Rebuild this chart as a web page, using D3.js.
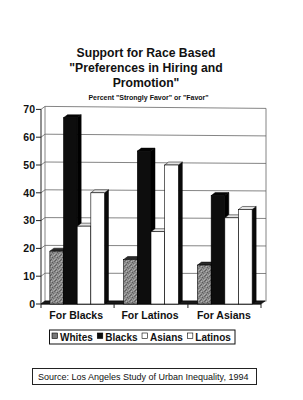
<!DOCTYPE html>
<html>
<head>
<meta charset="utf-8">
<script src="https://cdn.jsdelivr.net/npm/d3@7"></script>
<style>
  html, body { margin: 0; padding: 0; background: #fff; }
  svg { display: block; }
  text { font-family: "Liberation Sans", Arial, Helvetica, sans-serif; fill: #111; }
</style>
</head>
<body>
<svg id="chart" width="303" height="400"></svg>
<script>
// ---- data ----
const categories = ["For Blacks", "For Latinos", "For Asians"];
const seriesNames = ["Whites", "Blacks", "Asians", "Latinos"];
const whites  = [19, 16, 14];
const blacks  = [67, 55, 39];
const asians  = [28, 26, 31];
const latinos = [40, 50, 34];
const yTicks  = [0, 10, 20, 30, 40, 50, 60, 70];
const titleLines = ["Support for Race Based", "\"Preferences in Hiring and", "Promotion\""];
const subtitle = "Percent \"Strongly Favor\" or \"Favor\"";
const sourceText = "Source: Los Angeles Study of Urban Inequality, 1994";

const seriesValues = [whites, blacks, asians, latinos];

(function () {
// ---- layout ----
const svg = d3.select("#chart");
const pL = 41, pR = 261, pB = 304, pT = 109.4;
const DX = 4, DY = 3;      // wall depth
const BDX = 4, BDY = 3;    // bar depth
const tilt = 2;            // slight skew of the scanned back wall

const x0 = d3.scaleBand().domain(categories).range([pL, pR]).paddingInner(0.26).paddingOuter(0.12);
const x1 = d3.scaleBand().domain(seriesNames).range([0, x0.bandwidth()]).padding(0);
const y = d3.scaleLinear().domain([0, 70]).range([pB, pT]);

// stipple pattern for Whites (fixed dot layout)
const defs = svg.append("defs");
const pat = defs.append("pattern").attr("id", "stipple").attr("patternUnits", "userSpaceOnUse")
  .attr("width", 5).attr("height", 5);
pat.append("rect").attr("width", 5).attr("height", 5).attr("fill", "#8a8a8a");
const dots = [[0,0,"#5c5c5c"],[3,0,"#a8a8a8"],[1,1,"#b4b4b4"],[4,1,"#666"],[2,2,"#5a5a5a"],
              [0,3,"#a0a0a0"],[3,3,"#707070"],[1,4,"#626262"],[4,4,"#b0b0b0"],[2,4,"#9c9c9c"]];
dots.forEach(([px, py, c]) => pat.append("rect").attr("x", px).attr("y", py).attr("width", 1).attr("height", 1).attr("fill", c));

// ---- title ----
const tBaselines = [57, 72, 86.5];
titleLines.forEach((t, i) => {
  svg.append("text").attr("x", 146).attr("y", tBaselines[i]).attr("text-anchor", "middle")
    .attr("font-size", 12.2).attr("font-weight", "bold").text(t);
});
svg.append("text").attr("x", 148.5).attr("y", 99.5).attr("text-anchor", "middle")
  .attr("font-size", 7).attr("font-weight", "bold").text(subtitle);

// ---- walls & gridlines ----
const g = svg.append("g");
const wallR = pR + DX + 1;
g.append("path")
  .attr("d", `M${pL + DX},${y(0) - DY} L${pL + DX},${y(70) - DY} M${wallR},${y(70) - DY + tilt} L${wallR},${y(0) - DY + 0.5}`)
  .attr("stroke", "#666").attr("stroke-width", 0.8).attr("fill", "none");
g.selectAll(".grid").data(yTicks).join("path")
  .attr("class", "grid")
  .attr("d", v => `M${pL},${y(v)} L${pL + DX},${y(v) - DY} L${wallR},${y(v) - DY + tilt * v / 70}`)
  .attr("stroke", "#666").attr("stroke-width", 0.8).attr("fill", "none");

// floor (dark, visible in gaps)
g.append("path")
  .attr("d", `M${pL},${y(0)} L${pR},${y(0)} L${pR + DX},${y(0) - DY} L${pL + DX},${y(0) - DY} Z`)
  .attr("fill", "#1a1a1a").attr("stroke", "#000").attr("stroke-width", 0.6);

// y axis
g.append("line").attr("x1", pL).attr("x2", pL).attr("y1", y(0)).attr("y2", y(70))
  .attr("stroke", "#222").attr("stroke-width", 1);
g.selectAll(".ytick").data(yTicks).join("line").attr("class", "ytick")
  .attr("x1", pL - 5).attr("x2", pL).attr("y1", d => y(d)).attr("y2", d => y(d))
  .attr("stroke", "#222").attr("stroke-width", 1);
g.selectAll(".ylab").data(yTicks).join("text").attr("class", "ylab")
  .attr("x", pL - 6).attr("y", d => y(d)).attr("dy", "0.36em").attr("text-anchor", "end")
  .attr("font-size", 10.5).attr("font-weight", "bold").text(d => d);

// x axis line and category ticks
g.append("line").attr("x1", pL).attr("x2", pR).attr("y1", y(0)).attr("y2", y(0))
  .attr("stroke", "#111").attr("stroke-width", 1);
const step = x0.step();
const bounds = [pL].concat(categories.slice(1).map(c => x0(c) - step * x0.paddingInner() / 2)).concat([pR]);
g.selectAll(".xtick").data(bounds).join("line").attr("class", "xtick")
  .attr("x1", d => d).attr("x2", d => d).attr("y1", y(0)).attr("y2", y(0) + 4)
  .attr("stroke", "#222").attr("stroke-width", 1);
g.selectAll(".xlab").data(categories).join("text").attr("class", "xlab")
  .attr("x", d => x0(d) + x0.bandwidth() / 2 - 1).attr("y", 319).attr("text-anchor", "middle")
  .attr("font-size", 10.5).attr("font-weight", "bold").text(d => d);

// ---- bars ----
const styles = {
  Whites:  { front: "url(#stipple)", top: "#2a2a2a", side: "#1a1a1a" },
  Blacks:  { front: "#0d0d0d", top: "#050505", side: "#000" },
  Asians:  { front: "#ffffff", top: "#e4e4e4", side: "#111" },
  Latinos: { front: "#ffffff", top: "#e4e4e4", side: "#0a0a0a" }
};
const bars = [];
categories.forEach((c, ci) => {
  seriesNames.forEach((s, si) => {
    bars.push({ cat: c, series: s, value: seriesValues[si][ci] });
  });
});
const bg = svg.append("g");
bars.forEach(d => {
  const xa = x0(d.cat) + x1(d.series), w = x1.bandwidth();
  const yt = y(d.value), yb = y(0);
  const st = styles[d.series];
  const gb = bg.append("g");
  gb.append("path").attr("d", `M${xa + w},${yb} L${xa + w + BDX},${yb - BDY} L${xa + w + BDX},${yt - BDY} L${xa + w},${yt} Z`)
    .attr("fill", st.side).attr("stroke", "#000").attr("stroke-width", 0.5);
  gb.append("path").attr("d", `M${xa},${yt} L${xa + BDX},${yt - BDY} L${xa + w + BDX},${yt - BDY} L${xa + w},${yt} Z`)
    .attr("fill", st.top).attr("stroke", "#000").attr("stroke-width", 0.5);
  gb.append("rect").attr("x", xa).attr("y", yt).attr("width", w).attr("height", yb - yt)
    .attr("fill", st.front).attr("stroke", "#000").attr("stroke-width", 0.6);
});

// ---- legend ----
const lg = svg.append("g");
lg.append("rect").attr("x", 49.5).attr("y", 330).attr("width", 185.5).attr("height", 14)
  .attr("fill", "#fff").attr("stroke", "#111").attr("stroke-width", 1);
let lx = 52;
seriesNames.forEach(s => {
  const st = styles[s];
  lg.append("rect").attr("x", lx).attr("y", 333).attr("width", 5.5).attr("height", 5.5)
    .attr("fill", s === "Whites" ? "#777" : st.front).attr("stroke", "#000").attr("stroke-width", 0.6);
  const t = lg.append("text").attr("x", lx + 8).attr("y", 340.5).attr("font-size", 10)
    .attr("font-weight", "bold").text(s);
  lx = lx + 8 + t.node().getComputedTextLength() + 4.5;
});

// ---- source box ----
svg.append("rect").attr("x", 32.5).attr("y", 368.5).attr("width", 224).attr("height", 16)
  .attr("fill", "#fff").attr("stroke", "#222").attr("stroke-width", 1);
svg.append("text").attr("x", 38).attr("y", 380).attr("font-size", 9).text(sourceText);
})();
</script>
</body>
</html>
